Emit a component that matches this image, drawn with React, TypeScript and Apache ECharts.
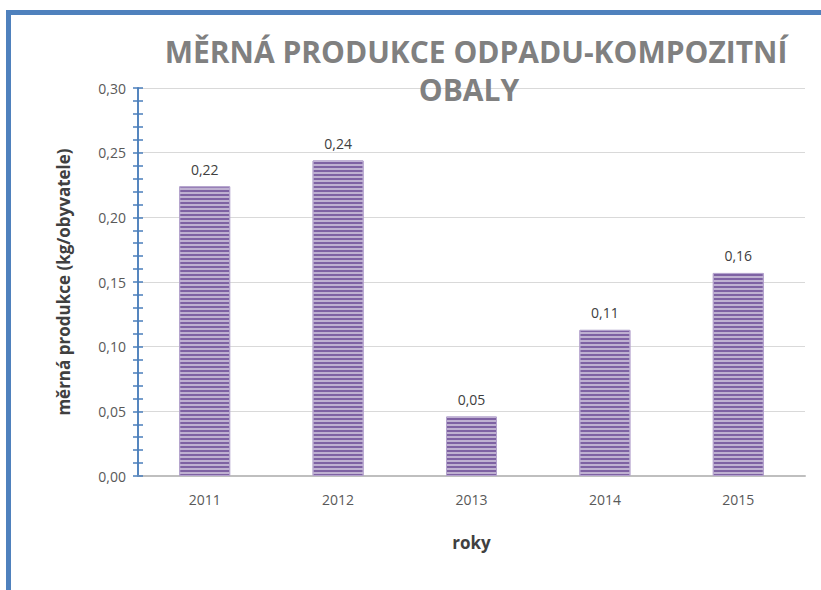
import React, { useEffect, useRef } from "react";
import * as echarts from "echarts";

const categories = ["2011", "2012", "2013", "2014", "2015"];
const values = [0.224, 0.244, 0.046, 0.113, 0.157];
const titleLines = ["MĚRNÁ PRODUKCE ODPADU-KOMPOZITNÍ", "OBALY"];
const yAxisName = "měrná produkce (kg/obyvatele)";
const xAxisName = "roky";

const FONT = "'Open Sans', sans-serif";
const fmt = (v: number) => v.toFixed(2).replace(".", ",");

export default function App() {
  const ref = useRef<HTMLDivElement>(null);
  useEffect(() => {
    if (!ref.current) return;
    const chart = echarts.init(ref.current, null, { renderer: "svg" });
    const blue = "#4a7ebb";
    chart.setOption({
      animation: false,
      backgroundColor: "#ffffff",
      textStyle: { fontFamily: FONT },
      grid: { left: 138, right: 16, top: 88, bottom: 114 },
      graphic: [
        { type: "rect", shape: { x: 6, y: 10, width: 5, height: 580 }, style: { fill: "#4f81bd" } },
        { type: "rect", shape: { x: 6, y: 10, width: 815, height: 5 }, style: { fill: "#4f81bd" } },
        {
          type: "text",
          x: 476,
          y: 51,
          z: 100,
          style: {
            text: titleLines[0],
            fill: "#808080",
            font: `bold 30px ${FONT}`,
            align: "center",
            verticalAlign: "middle",
          },
        },
        {
          type: "text",
          x: 469,
          y: 89,
          z: 100,
          style: {
            text: titleLines[1],
            fill: "#808080",
            font: `bold 30px ${FONT}`,
            align: "center",
            verticalAlign: "middle",
          },
        },
      ],
      xAxis: {
        type: "category",
        data: categories,
        name: xAxisName,
        nameLocation: "middle",
        nameGap: 58,
        nameTextStyle: { fontSize: 17, fontWeight: "bold", color: "#404040", fontFamily: FONT },
        axisLine: { lineStyle: { color: "#bfbfbf", width: 2 } },
        axisTick: { show: false },
        axisLabel: { color: "#595959", fontSize: 14, margin: 16, fontFamily: FONT },
      },
      yAxis: [
        {
          type: "value",
          min: 0,
          max: 0.3,
          interval: 0.05,
          name: yAxisName,
          nameLocation: "middle",
          nameGap: 66,
          nameTextStyle: { fontSize: 17, fontWeight: "bold", color: "#404040", fontFamily: FONT },
          axisLine: { show: true, lineStyle: { color: blue, width: 1.5 } },
          axisTick: { show: true, length: 5, lineStyle: { color: blue, width: 1.5 } },
          minorTick: { show: true, splitNumber: 5, length: 5, lineStyle: { color: blue, width: 1.5 } },
          axisLabel: { formatter: fmt, color: "#595959", fontSize: 14, margin: 12, fontFamily: FONT },
          splitLine: { show: true, lineStyle: { color: "#d9d9d9", width: 1 } },
        },
        {
          type: "value",
          min: 0,
          max: 0.3,
          interval: 0.05,
          position: "left",
          axisLine: { show: true, lineStyle: { color: blue, width: 1.5 } },
          axisTick: { show: true, inside: true, length: 5, lineStyle: { color: blue, width: 1.5 } },
          minorTick: { show: true, splitNumber: 5, length: 5, lineStyle: { color: blue, width: 1.5 } },
          axisLabel: { show: false },
          splitLine: { show: false },
        },
      ],
      series: [
        {
          type: "bar",
          data: values,
          barWidth: 51,
          itemStyle: {
            color: "#7e62a3",
            borderColor: "#b3a2cc",
            borderWidth: 1,
            decal: {
              symbol: "rect",
              symbolSize: 1,
              color: "rgba(255,255,255,0.5)",
              dashArrayX: [1, 0],
              dashArrayY: [1.5, 1.5],
              rotation: 0,
            },
          },
          label: {
            show: true,
            position: "top",
            distance: 10,
            formatter: (p: any) => fmt(p.value),
            color: "#404040",
            fontSize: 14,
            fontFamily: FONT,
          },
        },
      ],
    });
    return () => chart.dispose();
  }, []);
  return (
    <div
      ref={ref}
      style={{ position: "fixed", left: 0, top: 0, width: 821, height: 590, background: "#fff" }}
    />
  );
}
